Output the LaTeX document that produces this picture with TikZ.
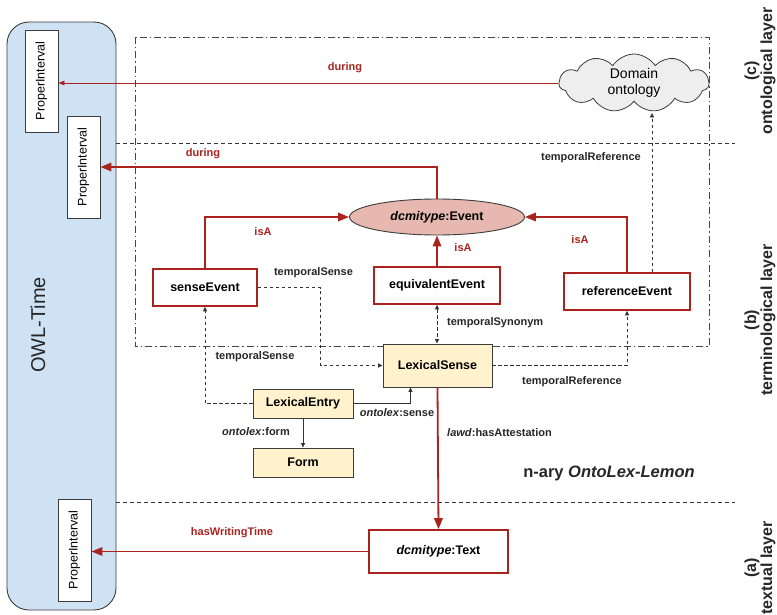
\documentclass[tikz,border=0pt]{standalone}
\usepackage{fontspec}
\setmainfont{Liberation Sans}
\usetikzlibrary{shapes.symbols,shapes.geometric,arrows.meta}
\definecolor{redline}{RGB}{170,35,30}
\definecolor{owlblue}{RGB}{207,226,243}
\definecolor{lexyellow}{RGB}{255,242,204}
\definecolor{evpink}{RGB}{230,184,175}
\definecolor{cloudgray}{RGB}{238,238,238}
\definecolor{edgegray}{RGB}{60,60,60}
\definecolor{linegray}{RGB}{70,70,70}
\tikzset{
  pibox/.style={draw=edgegray, fill=white, line width=0.8pt, minimum width=102pt, minimum height=33pt,
    rotate=90, inner sep=0pt, font=\fontsize{12.5}{14}\selectfont},
  evbox/.style={draw=redline, fill=white, line width=1.6pt, minimum height=37pt, inner sep=0pt,
    font=\bfseries\fontsize{12.5}{14}\selectfont},
  lexbox/.style={draw=edgegray, fill=lexyellow, line width=0.9pt, inner sep=0pt,
    font=\bfseries\fontsize{12.5}{14}\selectfont},
  redlab/.style={text=redline, font=\bfseries\fontsize{11}{13}\selectfont, inner sep=1pt},
  lab/.style={text=black!85, font=\bfseries\fontsize{11}{13}\selectfont, inner sep=1pt},
  thickarrow/.style={draw=redline, line width=1.8pt, -{Triangle[length=11pt,width=8.5pt]}},
  thinarrow/.style={draw=redline, line width=0.7pt, -{Triangle[length=6pt,width=4.5pt]}},
  dasharrow/.style={draw=black!80, line width=0.8pt, dash pattern=on 3.5pt off 2.5pt, -{Triangle[length=4.5pt,width=4pt]}},
  solidarrow/.style={draw=black!80, line width=0.8pt, -{Triangle[length=4.5pt,width=4pt]}},
  layerline/.style={draw=black!80, line width=0.8pt, dash pattern=on 4pt off 3pt},
  dashdotline/.style={draw=linegray, line width=0.8pt, dash pattern=on 7pt off 3pt on 1.5pt off 3pt},
  sidelab/.style={rotate=90, align=center, font=\bfseries\fontsize{16}{16}\selectfont, text=black!85}
}
\begin{document}
\begin{tikzpicture}[x=1pt,y=-1pt]
\useasboundingbox (0,0) rectangle (777,615);

% OWL-Time container
\draw[draw=edgegray, fill=owlblue, line width=0.9pt, rounded corners=22pt] (7,22) rectangle (116,610);
\node[rotate=90, font=\fontsize{20}{22}\selectfont, text=black!85] (owl) at (38,325) {OWL-Time};

% layer separators and frame
\draw[dashdotline] (135,37) rectangle (709,346);
\draw[layerline] (116,143) -- (735,143);
\draw[layerline] (116,502) -- (735,502);

% ProperInterval boxes
\node[pibox] (pi1) at (41.5,81) {ProperInterval};
\node[pibox] (pi2) at (83.5,167) {ProperInterval};
\node[pibox] (pi3) at (74.5,550) {ProperInterval};

% cloud
\node[cloud, cloud puffs=11, cloud puff arc=115, aspect=2.6, draw=edgegray, fill=cloudgray,
  line width=0.8pt, minimum width=150pt, minimum height=58pt, inner sep=0pt, align=center,
  font=\fontsize{14}{16}\selectfont] (cloud) at (634,83) {Domain\\ontology};
\coordinate (cloudbot) at (652,113);

% event nodes
\node[ellipse, draw=edgegray, fill=evpink, line width=0.9pt, minimum width=175pt, minimum height=36pt,
  inner sep=0pt, font=\fontsize{12.5}{14}\selectfont] (event) at (437,217) {\textbf{\textit{dcmitype}:Event}};
\node[evbox, minimum width=104pt] (sense) at (205,287.5) {senseEvent};
\node[evbox, minimum width=126pt] (equiv) at (437,285.5) {equivalentEvent};
\node[evbox, minimum width=126pt] (ref) at (627,291.5) {referenceEvent};

% lexical nodes
\node[lexbox, minimum width=109pt, minimum height=43pt] (lexsense) at (437.5,365.5) {LexicalSense};
\node[lexbox, minimum width=100pt, minimum height=29pt] (lexentry) at (303,403.5) {LexicalEntry};
\node[lexbox, minimum width=100pt, minimum height=29pt] (form) at (303,462.5) {Form};
\node[evbox, minimum width=139pt, minimum height=43pt, font=\fontsize{12.5}{14}\selectfont] (text) at (438.5,551.5) {\textbf{\textit{dcmitype}:Text}};

% connectors
\draw[thinarrow] (cloud.west) -- (cloud.west -| pi1.south);
\node[redlab] (lduring1) at (345,68) {during};

\draw[thickarrow] (event.north) |- (pi2.south);
\node[redlab] (lduring2) at (203,154) {during};

\draw[thickarrow] (sense.north) |- (event.west);
\node[redlab] (lisa1) at (263,232) {isA};
\draw[thickarrow] (equiv.north) -- (event.south);
\node[redlab] (lisa2) at (463,248) {isA};
\draw[thickarrow] (ref.north) |- (event.east);
\node[redlab] (lisa3) at (580,240) {isA};

\draw[dasharrow] ([xshift=25pt]ref.north) -- (cloudbot);
\node[lab, anchor=east] (ltr1) at (642,158) {temporalReference};

\draw[dasharrow] (sense.east) -- ++(63,0) |- (lexsense.west);
\node[lab] (lts1) at (313.5,273) {temporalSense};

\draw[dasharrow] (lexentry.west) -| (sense.south);
\node[lab] (lts2) at (255,357) {temporalSense};

\draw[dasharrow, {Triangle[length=4.5pt,width=4pt]}-{Triangle[length=4.5pt,width=4pt]}] (equiv.south) -- (equiv.south |- lexsense.north);
\node[lab, anchor=west] (lsyn) at (446,323) {temporalSynonym};

\draw[dasharrow] (lexsense.east) -| (ref.south);
\node[lab] (ltr2) at (572,382) {temporalReference};

\draw[solidarrow] (lexentry.east) -| ([xshift=-27pt]lexsense.south);
\node[lab] (lsense) at (397,413) {\textbf{\textit{ontolex}:sense}};

\draw[solidarrow] (lexentry.south) -- (form.north);
\node[lab] (lform) at (256,432) {\textbf{\textit{ontolex}:form}};

\draw[thickarrow] (lexsense.south) -- (text.north);
\node[lab, anchor=west] (latt) at (446,433) {\textit{lawd}:hasAttestation};

\draw[thickarrow] (text.west) -- (text.west -| pi3.south);
\node[redlab] (lwt) at (232,533) {hasWritingTime};

\node[font=\bfseries\fontsize{16.5}{18}\selectfont, text=black!85] (nary) at (609,473) {n-ary \textit{OntoLex-Lemon}};

% layer labels
\node[sidelab] (lc) at (760,71) {(c)\\ontological layer};
\node[sidelab] (lb) at (760,320) {(b)\\terminological layer};
\node[sidelab] (la) at (760,568) {(a)\\textual layer};
\end{tikzpicture}
\end{document}
